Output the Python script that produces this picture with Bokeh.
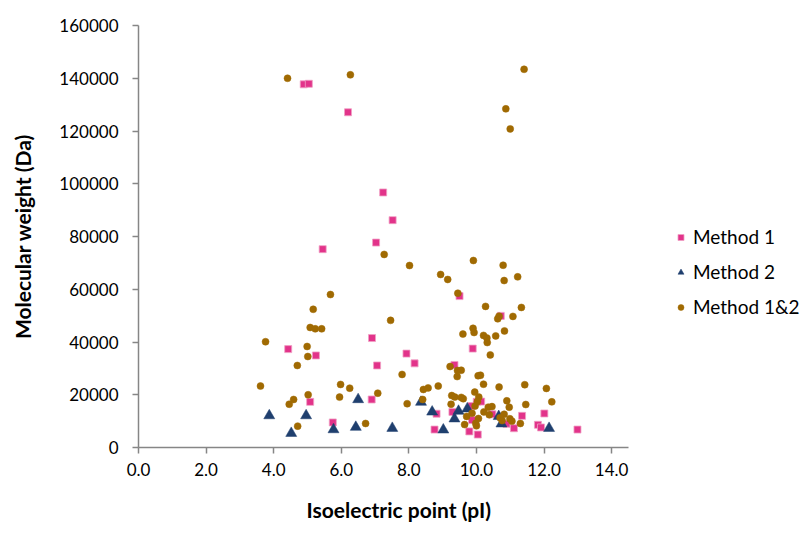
from bokeh.plotting import figure
from bokeh.models import Legend, LegendItem, FixedTicker, NumeralTickFormatter, Range1d, Title
from bokeh.embed import file_html
from bokeh.resources import INLINE

# Method 1 (squares)
m1_pi = [4.89, 5.04, 6.20, 7.24, 7.52, 7.03, 5.45, 9.50, 10.72, 6.91, 4.43, 9.89, 5.25, 7.93,
         7.06, 8.17, 9.35, 5.08, 6.90, 9.85, 10.01, 10.14, 5.75, 8.82, 9.29, 8.76, 9.79, 9.87,
         10.04, 10.47, 10.89, 11.11, 11.35, 11.82, 11.91, 12.01, 12.99]
m1_mw = [137700, 137900, 127100, 96700, 86200, 77700, 75200, 57400, 49900, 41500, 37300, 37500,
         34900, 35600, 31100, 31900, 31300, 17300, 18200, 15700, 17300, 17400, 9500, 12800, 13500,
         6800, 6100, 10400, 4900, 12600, 9000, 7300, 12000, 8600, 7600, 12900, 6800]

# Method 2 (triangles)
m2_pi = [3.87, 4.52, 4.96, 5.77, 6.43, 6.50, 7.51, 8.36, 8.69, 9.02, 9.35, 9.47, 9.73, 10.66,
         10.74, 12.15]
m2_mw = [12100, 5400, 12100, 6800, 7700, 18200, 7300, 17200, 13500, 6700, 10900, 13800, 14700,
         11800, 9000, 7300]

# Method 1&2 (circles)
m12_pi = [4.41, 6.27, 11.41, 10.87, 11.00,
          7.27, 8.02, 9.91, 10.79, 8.94, 9.15, 10.82, 11.22, 5.68, 9.45, 10.27, 11.33, 5.17,
          11.08, 10.63, 10.67, 7.46, 5.08, 5.23, 5.42, 9.90, 9.93, 9.60, 10.83, 10.21, 10.31,
          10.57, 10.32, 3.76, 4.99, 5.01, 10.41, 4.70, 9.22, 9.44, 9.55, 9.43, 10.05, 10.12,
          7.80, 3.61, 5.98, 6.25, 8.87, 8.43, 8.57, 10.21, 10.67, 11.43, 12.07, 9.95, 9.27,
          9.36, 9.55, 9.61, 5.02, 5.95, 7.08, 4.59, 4.46, 7.95, 8.41, 9.25, 10.07, 10.03, 9.96,
          10.90, 10.97, 11.46, 12.23, 10.22, 10.35, 10.46, 10.38, 10.82, 9.87, 9.71, 9.65,
          10.06, 9.98, 10.00, 10.70, 10.76, 10.99, 11.05, 11.30, 6.72, 4.71]
m12_mw = [140000, 141300, 143400, 128400, 120800,
          73200, 69000, 70900, 69100, 65600, 63700, 63300, 64700, 58000, 58500, 53500, 53100,
          52400, 49700, 48800, 49800, 48200, 45500, 45000, 45000, 45200, 43600, 43000, 44200,
          42500, 41500, 42300, 39800, 40100, 38300, 34500, 35100, 31100, 30700, 29200, 29300,
          26900, 27200, 27400, 27700, 23300, 23900, 22500, 23300, 22000, 22600, 24000, 22900,
          23800, 22400, 21000, 19700, 19100, 19000, 18500, 20000, 19100, 20600, 18200, 16400,
          16600, 18200, 16400, 19100, 17400, 15700, 17700, 15300, 16300, 17300, 13500, 15300,
          15500, 12400, 12600, 13000, 11800, 8700, 11000, 9200, 8200, 11300, 10200, 10900,
          10000, 9100, 9100, 8100]

x_ticks = [0, 2, 4, 6, 8, 10, 12, 14]
y_ticks = [0, 20000, 40000, 60000, 80000, 100000, 120000, 140000, 160000]
x_axis_max = 14.5
y_axis_max = 160000

FONT = "Lato"
AXIS_COLOR = "#868686"

# frame spans 138..801 px; the axis itself covers 138..628 px (0..14.5)
plot_w, plot_h = 802, 537
frame_left, axis_right, frame_right = 138, 628, 801
frame_top, frame_bottom = 25, 447
x_end = x_axis_max * (frame_right - frame_left) / (axis_right - frame_left)

p = figure(width=plot_w, height=plot_h, output_backend="svg", toolbar_location=None,
           x_range=Range1d(0, x_end), y_range=Range1d(0, y_axis_max),
           min_border_left=frame_left, min_border_right=plot_w - frame_right,
           min_border_top=frame_top, min_border_bottom=plot_h - frame_bottom)
p.outline_line_color = None
p.xgrid.visible = False
p.ygrid.visible = False

r1 = p.scatter(m1_pi, m1_mw, marker="square", size=7, fill_color="#E2338A",
               line_color="#F0A0C4", line_width=0.8)
r2 = p.scatter(m2_pi, m2_mw, marker="triangle", size=11, fill_color="#1F3F6E",
               line_color="#1F3F6E", line_width=0.5)
r3 = p.scatter(m12_pi, m12_mw, marker="circle", size=7, fill_color="#A06A02",
               line_color="#A06A02", line_width=0.5)

for ax in (p.xaxis[0], p.yaxis[0]):
    ax.axis_line_color = AXIS_COLOR
    ax.axis_line_width = 1.5
    ax.major_tick_line_color = AXIS_COLOR
    ax.major_tick_line_width = 1.5
    ax.major_tick_out = 6
    ax.major_tick_in = 0
    ax.minor_tick_line_color = None
    ax.major_label_text_font = FONT
    ax.major_label_text_font_size = "17px"
    ax.major_label_text_color = "#000000"
    ax.axis_label_text_font = FONT
    ax.axis_label_text_font_size = "21px"
    ax.axis_label_text_font_style = "bold"
    ax.axis_label_text_color = "#000000"

p.xaxis.bounds = (0, x_axis_max)
p.xaxis.ticker = FixedTicker(ticks=x_ticks)
p.xaxis.formatter = NumeralTickFormatter(format="0.0")
p.xaxis.major_label_standoff = 9

p.yaxis.ticker = FixedTicker(ticks=y_ticks)
p.yaxis.formatter = NumeralTickFormatter(format="0")
p.yaxis.axis_label = "Molecular weight (Da)"
p.yaxis.major_label_standoff = 14
p.yaxis.axis_label_standoff = 21

# x-axis title, centred under the axis (not the whole frame)
xtitle = Title(text="Isoelectric point (pI)", align="left", offset=168,
               text_font=FONT, text_font_size="21px", text_font_style="bold",
               text_color="#000000", standoff=32)
p.add_layout(xtitle, "below")

legend = Legend(items=[LegendItem(label="Method 1", renderers=[r1]),
                       LegendItem(label="Method 2", renderers=[r2]),
                       LegendItem(label="Method 1&2", renderers=[r3])],
                location=(535, 129), orientation="vertical")
legend.background_fill_alpha = 0
legend.border_line_color = None
legend.padding = 0
legend.margin = 0
legend.spacing = 12
legend.glyph_width = 15
legend.glyph_height = 20
legend.label_height = 20
legend.label_standoff = 5
legend.label_text_font = FONT
legend.label_text_font_size = "19px"
legend.label_text_color = "#000000"
p.add_layout(legend, "center")

open("out.html", "w").write(file_html(p, INLINE))
